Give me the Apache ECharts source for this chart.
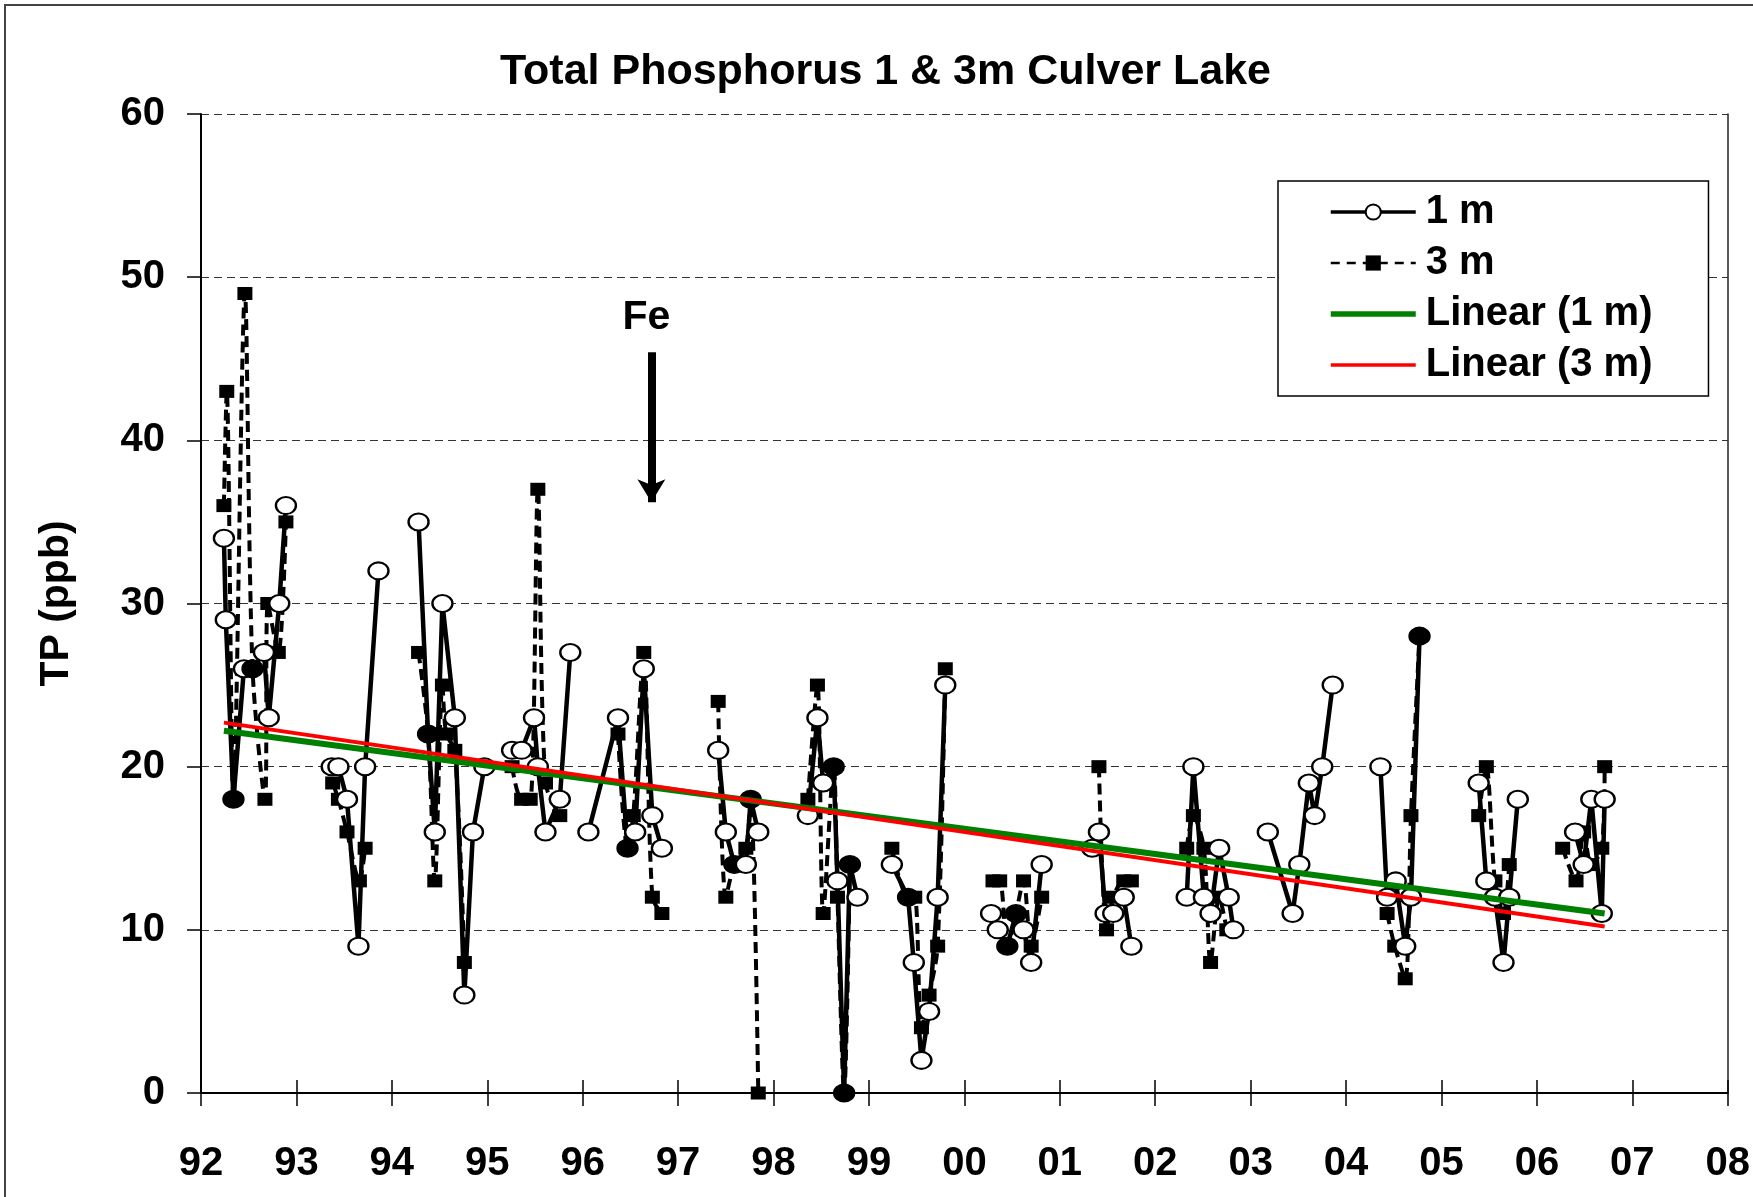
<!DOCTYPE html>
<html>
<head>
<meta charset="utf-8">
<title>Total Phosphorus 1 & 3m Culver Lake</title>
<script src="https://cdn.jsdelivr.net/npm/echarts/dist/echarts.min.js"></script>
<style>
  html, body { margin: 0; padding: 0; background: #fff; }
  #chart { width: 1753px; height: 1197px; }
</style>
</head>
<body>
<div id="chart"></div>
<script>
// x axis: decimal year counted from 1900 (92 = 1992, 100 = 2000); null = gap between seasons
var xLabels = ['92', '93', '94', '95', '96', '97', '98', '99', '00', '01', '02', '03', '04', '05', '06', '07', '08'];

var date1m = [
  92.24, 92.26, 92.34, 92.45, 92.54, 92.66, 92.71, 92.82, 92.89, null,
  93.37, 93.44, 93.53, 93.65, 93.72, 93.86, null,
  94.28, 94.38, 94.45, 94.53, 94.66, 94.76, 94.85, 94.97, null,
  95.26, 95.36, 95.49, 95.53, 95.61, 95.76, 95.87, null,
  96.06, 96.37, 96.47, 96.55, 96.64, 96.73, 96.83, null,
  97.42, 97.50, 97.59, 97.71, 97.76, 97.84, null,
  98.36, 98.46, 98.52, 98.63, 98.67, 98.74, 98.80, 98.88, null,
  99.24, 99.41, 99.47, 99.55, 99.63, 99.72, 99.80, null,
  100.28, 100.35, 100.45, 100.54, 100.62, 100.70, 100.81, null,
  101.34, 101.41, 101.48, 101.56, 101.67, 101.75, null,
  102.33, 102.40, 102.51, 102.58, 102.67, 102.77, 102.82, null,
  103.18, 103.44, 103.51, 103.61, 103.67, 103.75, 103.86, null,
  104.36, 104.43, 104.52, 104.62, 104.68, 104.77, null,
  105.39, 105.47, 105.56, 105.65, 105.71, 105.80, null,
  106.40, 106.49, 106.57, 106.68, 106.71
];
var tp1m = [
  34, 29, 18, 26, 26, 27, 23, 30, 36, null,
  20, 20, 18, 9, 20, 32, null,
  35, 22, 16, 30, 23, 6, 16, 20, null,
  21, 21, 23, 20, 16, 18, 27, null,
  16, 23, 15, 16, 26, 17, 15, null,
  21, 16, 14, 14, 18, 16, null,
  17, 23, 19, 20, 13, 0, 14, 12, null,
  14, 12, 8, 2, 5, 12, 25, null,
  11, 10, 9, 11, 10, 8, 14, null,
  15, 16, 11, 11, 12, 9, null,
  12, 20, 12, 11, 15, 12, 10, null,
  16, 11, 14, 19, 17, 20, 25, null,
  20, 12, 13, 9, 12, 28, null,
  19, 13, 12, 8, 12, 18, null,
  16, 14, 18, 11, 18
];
// dates where the 1 m and 3 m samples coincide (drawn as solid dots)
var same1m3m = [92.34, 92.54, 94.38, 96.47, 97.59, 97.76, 98.63, 98.74, 98.80, 99.41, 100.45, 100.54, 104.77];

var date3m = [
  92.24, 92.27, 92.34, 92.46, 92.54, 92.67, 92.70, 92.81, 92.89, null,
  93.38, 93.44, 93.53, 93.66, 93.72, null,
  94.28, 94.38, 94.45, 94.53, 94.57, 94.66, 94.76, null,
  95.26, 95.36, 95.45, 95.53, 95.61, 95.76, null,
  96.37, 96.47, 96.53, 96.64, 96.73, 96.83, null,
  97.42, 97.50, 97.59, 97.71, 97.76, 97.84, null,
  98.36, 98.46, 98.52, 98.63, 98.67, 98.74, 98.80, null,
  99.24, 99.41, 99.48, 99.55, 99.63, 99.72, 99.80, null,
  100.30, 100.37, 100.45, 100.54, 100.62, 100.70, 100.81, null,
  101.41, 101.49, 101.56, 101.67, 101.75, null,
  102.33, 102.40, 102.51, 102.58, 102.67, 102.75, null,
  104.43, 104.51, 104.62, 104.68, 104.77, null,
  105.39, 105.47, 105.56, 105.65, 105.71, null,
  106.27, 106.41, 106.49, 106.57, 106.68, 106.71
];
var tp3m = [
  36, 43, 18, 49, 26, 18, 30, 27, 35, null,
  19, 18, 16, 13, 15, null,
  27, 22, 13, 25, 22, 21, 8, null,
  20, 18, 18, 37, 19, 17, null,
  22, 15, 17, 27, 12, 11, null,
  24, 12, 14, 15, 18, 0, null,
  18, 25, 11, 20, 12, 0, 14, null,
  15, 12, 12, 4, 6, 9, 26, null,
  13, 13, 9, 11, 13, 9, 12, null,
  20, 10, 12, 13, 13, null,
  15, 17, 15, 8, 12, 10, null,
  11, 9, 7, 17, 28, null,
  17, 20, 13, 11, 14, null,
  15, 13, 16, 14, 15, 20
];

// linear trend lines, end points
var trendDates = [92.24, 106.71];
var trend1m = [22.2, 11.0];
var trend3m = [22.7, 10.2];

// Fe treatment arrow: [date, top, bottom]
var feArrow = [96.72, 45.4, 36.2];

var font = "'Liberation Sans', Arial, sans-serif";

function toPairs(dates, vals) {
  return dates.map(function (d, i) {
    if (d === null) return ['-', '-'];
    return [d, vals[i]];
  });
}

var data1m = toPairs(date1m, tp1m).map(function (p) {
  if (same1m3m.indexOf(p[0]) >= 0) {
    return {value: p, itemStyle: {color: '#000'}};
  }
  return p;
});

var myChart = echarts.init(document.getElementById('chart'));
myChart.setOption({
  animation: false,
  backgroundColor: '#fff',
  graphic: [{
    type: 'rect',
    shape: {x: 5, y: 5, width: 1800, height: 1300},
    style: {fill: 'none', stroke: '#444', lineWidth: 2},
    silent: true
  }],
  title: {
    text: 'Total Phosphorus 1 & 3m Culver Lake',
    left: 500,
    top: 51,
    padding: 0,
    textStyle: {fontFamily: font, fontSize: 43, fontWeight: 'bold', color: '#000'}
  },
  legend: {
    orient: 'vertical',
    left: 1278,
    top: 181,
    padding: [11, 56, 11, 50],
    itemGap: 11,
    itemWidth: 85,
    itemHeight: 19,
    borderColor: '#000',
    borderWidth: 1.5,
    backgroundColor: '#fff',
    textStyle: {fontFamily: font, fontSize: 40, fontWeight: 'bold', color: '#000', lineHeight: 38, padding: [0, 0, 0, 5]},
    data: [
      {name: '1 m', lineStyle: {width: 3.5}},
      {name: '3 m', lineStyle: {width: 2.5, type: [9, 7]}},
      {name: 'Linear (1 m)', lineStyle: {width: 5.5}, itemStyle: {opacity: 0}},
      {name: 'Linear (3 m)', lineStyle: {width: 3.5}, itemStyle: {opacity: 0}}
    ]
  },
  grid: {left: 201, right: 25, top: 114, bottom: 104},
  xAxis: [{
    type: 'value',
    min: 92,
    max: 108,
    interval: 1,
    axisLine: {show: true, onZero: false, lineStyle: {color: '#000', width: 2}},
    axisTick: {show: true, inside: false, length: 13, lineStyle: {color: '#000', width: 1.5}},
    axisLabel: {
      margin: 51,
      fontFamily: font, fontSize: 40, fontWeight: 'bold', color: '#000',
      formatter: function (v) { return xLabels[Math.round(v - 92)]; }
    },
    splitLine: {show: false}
  }, {
    type: 'value',
    min: 92,
    max: 108,
    interval: 1,
    position: 'bottom',
    axisLine: {show: false},
    axisTick: {show: true, inside: true, length: 13, lineStyle: {color: '#000', width: 1.5}},
    axisLabel: {show: false},
    splitLine: {show: false}
  }],
  yAxis: [{
    type: 'value',
    min: 0,
    max: 60,
    interval: 10,
    name: 'TP (ppb)',
    nameLocation: 'middle',
    nameGap: 124,
    nameRotate: 90,
    nameTextStyle: {fontFamily: font, fontSize: 41, fontWeight: 'bold', color: '#000'},
    axisLine: {show: true, lineStyle: {color: '#000', width: 2}},
    axisTick: {show: true, length: 14, lineStyle: {color: '#000', width: 1.5}},
    axisLabel: {margin: 36, fontFamily: font, fontSize: 40, fontWeight: 'bold', color: '#000'},
    splitLine: {show: true, lineStyle: {color: '#333', width: 1.2, type: [8, 5]}}
  }, {
    type: 'value',
    min: 0,
    max: 60,
    interval: 10,
    position: 'right',
    axisLine: {show: true, lineStyle: {color: '#222', width: 1.5}},
    axisTick: {show: false},
    axisLabel: {show: false},
    splitLine: {show: false}
  }],
  series: [{
    name: '3 m',
    type: 'line',
    data: toPairs(date3m, tp3m),
    connectNulls: false,
    smooth: 0.3,
    symbol: 'rect',
    symbolSize: [15, 13],
    itemStyle: {color: '#000'},
    lineStyle: {color: '#000', width: 4, type: [11, 6]},
    z: 2
  }, {
    name: '1 m',
    type: 'line',
    data: data1m,
    connectNulls: false,
    symbol: 'circle',
    symbolSize: [20, 17],
    itemStyle: {color: '#fff', borderColor: '#000', borderWidth: 2.2},
    lineStyle: {color: '#000', width: 4.5},
    z: 3,
    markLine: {
      silent: true,
      symbol: ['none', 'arrow'],
      symbolSize: [21, 23],
      lineStyle: {color: '#000', width: 8, type: 'solid'},
      label: {
        show: true,
        position: 'start',
        distance: 14,
        padding: [0, 10, 0, 0],
        formatter: 'Fe',
        fontFamily: font, fontSize: 41, fontWeight: 'bold', color: '#000'
      },
      data: [[{coord: [feArrow[0], feArrow[1]]}, {coord: [feArrow[0], feArrow[2]]}]]
    }
  }, {
    name: 'Linear (1 m)',
    type: 'line',
    data: toPairs(trendDates, trend1m),
    symbol: 'none',
    lineStyle: {color: '#008000', width: 6},
    itemStyle: {color: '#008000'},
    z: 4
  }, {
    name: 'Linear (3 m)',
    type: 'line',
    data: toPairs(trendDates, trend3m),
    symbol: 'none',
    lineStyle: {color: '#ff0000', width: 4},
    itemStyle: {color: '#ff0000'},
    z: 5
  }]
});
</script>
</body>
</html>
